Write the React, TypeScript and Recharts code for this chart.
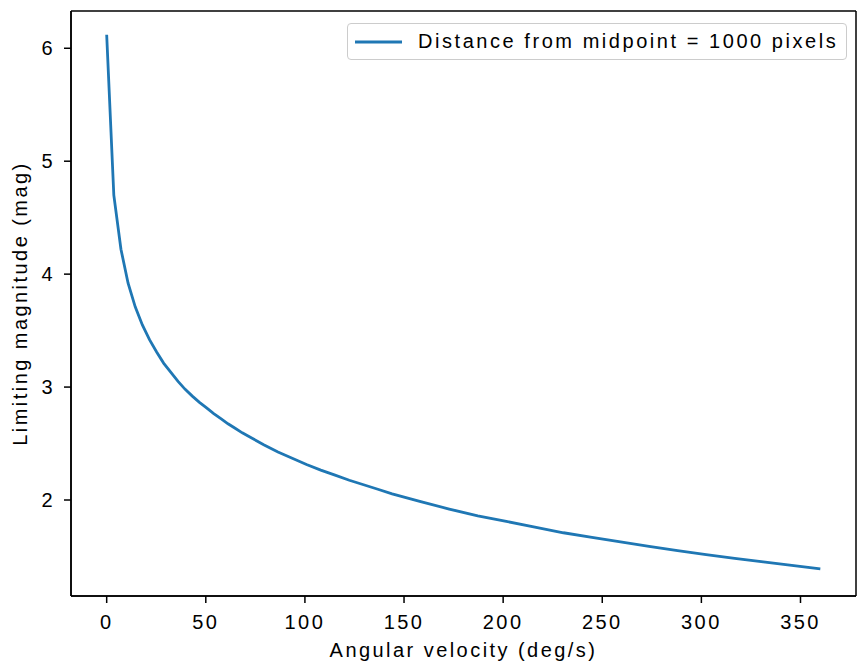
import { LineChart, Line, XAxis, YAxis, Legend, CartesianGrid } from "recharts";

const velocities = [
  0, 3.6, 7.2, 10.8, 14.4, 18, 21.6, 25.2, 28.8, 32.4, 36, 39.6, 43.2, 46.8,
  50.4, 54, 57.6, 61.2, 64.8, 68.4, 72, 79.2, 86.4, 93.6, 100.8, 108, 115.2,
  122.4, 129.6, 136.8, 144, 158.4, 172.8, 187.2, 201.6, 216, 230.4, 244.8,
  259.2, 273.6, 288, 302.4, 316.8, 331.2, 345.6, 360,
];

const magnitudes = [
  6.12, 4.7, 4.22, 3.92, 3.71, 3.55, 3.42, 3.31, 3.21, 3.13, 3.05, 2.98, 2.92,
  2.865, 2.815, 2.765, 2.72, 2.675, 2.635, 2.595, 2.56, 2.49, 2.425, 2.37,
  2.315, 2.265, 2.22, 2.175, 2.135, 2.095, 2.055, 1.985, 1.92, 1.86, 1.81,
  1.76, 1.71, 1.67, 1.63, 1.59, 1.552, 1.517, 1.484, 1.452, 1.421, 1.39,
];

const xTicks = [0, 50, 100, 150, 200, 250, 300, 350];
const yTicks = [2, 3, 4, 5, 6];
const seriesName = "Distance from midpoint = 1000 pixels";

const data = velocities.map((v, i) => ({ v, m: magnitudes[i] }));

const FONT = '"Liberation Sans", Arial, sans-serif';
const FS = 20;
const LS = 2.45;
const BLUE = "#1f77b4";

const textStyle = { fontFamily: FONT, fontSize: FS, letterSpacing: LS, fill: "#000" };

const XLabel = (props: any) => {
  const vb = props.viewBox;
  return (
    <text x={vb.x + vb.width / 2} y={vb.y + 61} textAnchor="middle" style={textStyle}>
      Angular velocity (deg/s)
    </text>
  );
};

const YLabel = (props: any) => {
  const vb = props.viewBox;
  const cx = 27;
  const cy = vb.y + vb.height / 2;
  return (
    <text
      x={cx}
      y={cy}
      textAnchor="middle"
      transform={`rotate(-90, ${cx}, ${cy})`}
      style={textStyle}
    >
      Limiting magnitude (mag)
    </text>
  );
};

const LegendBox = (props: any) => {
  const item = props.payload && props.payload[0];
  return (
    <div
      style={{
        boxSizing: "border-box",
        width: 500,
        height: 37,
        border: "1px solid #cccccc",
        borderRadius: 4,
        background: "rgba(255,255,255,0.8)",
        display: "flex",
        alignItems: "center",
        paddingLeft: 7,
        fontFamily: FONT,
        fontSize: FS,
        letterSpacing: 2.55,
        color: "#000",
      }}
    >
      <svg width={47} height={6}>
        <line x1={0} y1={3} x2={47} y2={3} stroke={BLUE} strokeWidth={2.8} />
      </svg>
      <span style={{ marginLeft: 16 }}>{item ? item.value : seriesName}</span>
    </div>
  );
};

export default function App() {
  const axisLine = { stroke: "#000", strokeWidth: 1.5 };
  return (
    <div style={{ position: "absolute", left: 0, top: 0, background: "#fff" }}>
      <LineChart
        width={857}
        height={666}
        data={data}
        margin={{ top: 11, right: 1, bottom: 0, left: 0 }}
      >
        {/* frame on all four sides, like matplotlib spines */}
        <CartesianGrid
          stroke="#000"
          strokeWidth={1.5}
          horizontalCoordinatesGenerator={({ offset }: any) => [offset.top, offset.top + offset.height]}
          verticalCoordinatesGenerator={({ offset }: any) => [offset.left, offset.left + offset.width]}
        />
        <XAxis
          dataKey="v"
          type="number"
          domain={[-18, 378]}
          ticks={xTicks}
          allowDataOverflow
          height={70}
          tickSize={7}
          tickMargin={12}
          axisLine={axisLine}
          tickLine={axisLine}
          tick={textStyle}
          label={<XLabel />}
        />
        <YAxis
          type="number"
          domain={[1.15, 6.33]}
          ticks={yTicks}
          allowDataOverflow
          width={71}
          tickSize={7}
          tickMargin={9}
          axisLine={axisLine}
          tickLine={axisLine}
          tick={textStyle}
          label={<YLabel />}
        />
        <Legend
          layout="horizontal"
          verticalAlign="middle"
          align="center"
          content={<LegendBox />}
          wrapperStyle={{ top: 23, left: 347, width: 500, height: 37 }}
        />
        <Line
          type="linear"
          dataKey="m"
          name={seriesName}
          stroke={BLUE}
          strokeWidth={2.8}
          dot={false}
          isAnimationActive={false}
        />
      </LineChart>
    </div>
  );
}
